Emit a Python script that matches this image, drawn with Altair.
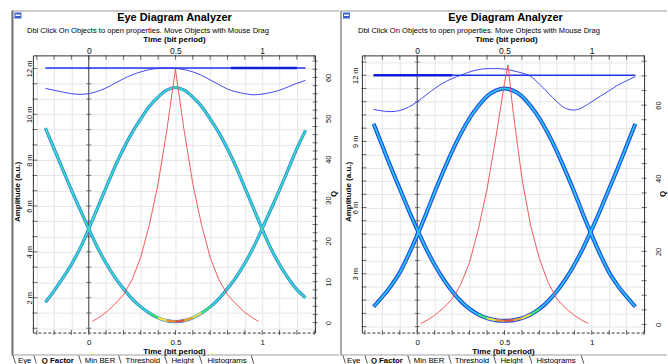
import altair as alt
import pandas as pd

FONT = "Liberation Sans"

# ---------------- data ----------------
T = [-0.25, -0.2, -0.15, -0.1, -0.05, 0.0, 0.05, 0.1, 0.15, 0.2, 0.25, 0.3, 0.35, 0.4, 0.45, 0.5,
     0.55, 0.6, 0.65, 0.7, 0.75, 0.8, 0.85, 0.9, 0.95, 1.0, 1.05, 1.1, 1.15, 1.2, 1.25]

# left panel (amplitude in m a.u.)
L_LOW = [9.4, 8.5, 7.6, 6.7, 5.85, 5.0, 4.2, 3.5, 2.9, 2.4, 1.95, 1.6, 1.33, 1.12, 1.0, 0.96,
         1.0, 1.12, 1.33, 1.6, 1.95, 2.4, 2.9, 3.5, 4.2, 5.0, 5.85, 6.7, 7.6, 8.5, 9.3]
L_UP = [1.8, 2.3, 2.85, 3.45, 4.15, 5.0, 5.9, 6.8, 7.7, 8.5, 9.2, 9.8, 10.35, 10.75, 11.05, 11.17,
        11.05, 10.75, 10.35, 9.8, 9.2, 8.5, 7.7, 6.8, 5.9, 5.0, 4.15, 3.45, 2.85, 2.35, 2.0]
L_TOPC = [11.13, 11.05, 10.97, 10.9, 10.87, 10.9, 11.0, 11.15, 11.35, 11.55, 11.72, 11.85, 11.95, 12.0, 12.02, 12.0,
          11.95, 11.85, 11.7, 11.5, 11.3, 11.1, 10.98, 10.9, 10.85, 10.88, 10.95, 11.05, 11.2, 11.35, 11.48]
L_FLAT_T = [-0.25, 1.25]
L_FLAT = [12.02, 12.02]
L_BAND_T = [0.82, 1.2]
L_BAND = [12.02, 12.02]
LQ_T = [0.02, 0.05, 0.1, 0.15, 0.2, 0.25, 0.3, 0.35, 0.4, 0.45, 0.5,
        0.55, 0.6, 0.65, 0.7, 0.75, 0.8, 0.85, 0.9, 0.95, 0.98]
LQ = [0.3, 1.0, 2.5, 4.5, 6.8, 10.5, 16, 24, 34, 47, 62, 47, 34, 24, 16, 10.5, 6.8, 4.5, 2.5, 1.0, 0.3]

# right panel
R_LOW = [9.8, 8.8, 7.8, 6.85, 5.9, 5.0, 4.15, 3.4, 2.75, 2.2, 1.75, 1.4, 1.15, 0.98, 0.89, 0.86,
         0.89, 0.98, 1.15, 1.4, 1.75, 2.2, 2.75, 3.4, 4.15, 5.0, 5.9, 6.85, 7.8, 8.8, 9.8]
R_UP = [1.5, 1.95, 2.45, 3.05, 3.85, 4.75, 5.7, 6.7, 7.65, 8.55, 9.35, 10.05, 10.6, 11.05, 11.3, 11.4,
        11.3, 11.05, 10.6, 10.05, 9.35, 8.55, 7.65, 6.7, 5.7, 4.75, 3.85, 3.05, 2.45, 1.95, 1.5]
R_TOPC = [10.45, 10.38, 10.35, 10.4, 10.55, 10.8, 11.1, 11.4, 11.65, 11.85, 12.0, 12.15, 12.25, 12.3, 12.3, 12.28,
          12.2, 12.1, 11.95, 11.6, 11.2, 10.8, 10.5, 10.42, 10.55, 10.8, 11.05, 11.3, 11.55, 11.75, 11.94]
R_FLAT_T = [-0.25, 1.25]
R_FLAT = [12.0, 12.0]
R_BAND_T = [-0.25, 0.2]
R_BAND = [12.0, 12.0]
RQ_T = [0.02, 0.05, 0.1, 0.15, 0.2, 0.25, 0.3, 0.35, 0.4, 0.45, 0.5, 0.52,
        0.55, 0.6, 0.65, 0.7, 0.75, 0.8, 0.85, 0.9, 0.95, 0.98]
RQ = [0.3, 1.0, 2.5, 4.5, 7, 11, 17, 26, 37, 51, 66, 71, 58, 40, 27, 18, 11.5, 7, 4.5, 2.5, 1.0, 0.3]

# colours of the dense spots at the bottom of the eye (segments between points 12..19)
SPOT_COLORS = ["#3ee070", "#f2e23a", "#f08a30", "#e8503a", "#f2a030", "#e8e040", "#3ee070"]

# tick positions / labels
XT = [round(-0.3 + 0.1 * i, 2) for i in range(17)]
AT_L = [round(2 / 3 * i, 3) for i in range(1, 19)]
AT_R = [round(0.6 * i, 2) for i in range(1, 22)]
QT_L = list(range(0, 66, 2))
QT_R = list(range(0, 74, 4))
TABS = ["Eye", "Q Factor", "Min BER", "Threshold", "Height", "Histograms"]
TITLE = "Eye Diagram Analyzer"
SUBTITLE = "Dbl Click On Objects to open properties.  Move Objects with Mouse Drag"
XTITLE = "Time (bit period)"
ATITLE = "Amplitude (a.u.)"
QTITLE = "Q"

XLAB = ("abs(datum.value) < 0.001 ? '0' : abs(datum.value - 0.5) < 0.001 ? '0.5' : "
        "abs(datum.value - 1) < 0.001 ? '1' : ''")

ONE = pd.DataFrame({"k": [0]})
W, H = 283, 278


def txt(s, x, y, size, bold=False, angle=0, align="center", baseline="alphabetic", color="#000000"):
    return alt.Chart(ONE).mark_text(
        text=s, font=FONT, fontSize=size, fontWeight="bold" if bold else "normal",
        angle=angle, align=align, baseline=baseline, color=color,
    ).encode(x=alt.value(x), y=alt.value(y))


def rule(x, y, x2, y2, color, w):
    return alt.Chart(ONE).mark_rule(color=color, strokeWidth=w).encode(
        x=alt.value(x), y=alt.value(y), x2=alt.value(x2), y2=alt.value(y2))


def make_panel(c):
    xsc = alt.Scale(domain=c["xdom"], nice=False, zero=False)
    ysc = alt.Scale(domain=c["adom"], nice=False, zero=False)
    qsc = alt.Scale(domain=c["qdom"], nice=False, zero=False)

    xb = alt.X("t:Q", scale=xsc, axis=alt.Axis(
        orient="bottom", values=XT, labelExpr=XLAB, grid=True, gridColor="#e6e6e6",
        ticks=False, tickSize=0, domainColor="#333333", domainDash=[3, 2],
        labelFont=FONT, labelFontSize=8, labelColor="#111111", labelBaseline="top",
        labelPadding=6, labelOverlap=False, labelFlush=False, title=None))
    ya = alt.Y("a:Q", scale=ysc, axis=alt.Axis(
        orient="left", values=c["aticks"], labelExpr=c["alab"], grid=True, gridColor="#e6e6e6",
        ticks=False, tickSize=0, domainColor="#333333",
        labelFont=FONT, labelFontSize=7.5, labelColor="#111111", labelAngle=270,
        labelAlign="center", labelBaseline="alphabetic", labelPadding=c["apad"],
        labelOverlap=False, labelFlush=False, title=None))
    xt = alt.X("t:Q", scale=xsc, axis=alt.Axis(
        orient="top", values=XT, labelExpr=XLAB, grid=False,
        ticks=False, tickSize=0, domainColor="#333333",
        labelFont=FONT, labelFontSize=8.5, labelColor="#111111", labelBaseline="alphabetic",
        labelPadding=2, labelOverlap=False, labelFlush=False, title=None))
    yq = alt.Y("q:Q", scale=qsc, axis=alt.Axis(
        orient="right", values=c["qticks"], labelExpr=c["qlab"], grid=False,
        ticks=False, tickSize=0, domainColor="#333333",
        labelFont=FONT, labelFontSize=7.5, labelColor="#111111", labelAngle=270,
        labelAlign="center", labelBaseline="top", labelPadding=c["qpad"],
        labelOverlap=False, labelFlush=False, title=None))

    # data frames
    eye = pd.DataFrame({
        "t": T + T, "a": c["low"] + c["up"],
        "trace": ["low"] * len(T) + ["up"] * len(T)})
    seg_rows = []
    for i, col in enumerate(SPOT_COLORS):
        j = 12 + i
        seg_rows.append({"t": T[j], "a": c["low"][j], "seg": i, "col": col})
        seg_rows.append({"t": T[j + 1], "a": c["low"][j + 1], "seg": i, "col": col})
    spots = pd.DataFrame(seg_rows)
    topc = pd.DataFrame({"t": T, "a": c["topc"]})
    flat = pd.DataFrame({"t": c["flat_t"], "a": c["flat"]})
    band = pd.DataFrame({"t": c["band_t"], "a": c["band"]})
    qdf = pd.DataFrame({"t": c["q_t"], "q": c["q"]})
    xt_df = pd.DataFrame({"t": XT})
    at_df = pd.DataFrame({"a": c["aticks"], "t": [0.0] * len(c["aticks"])})
    qt_df = pd.DataFrame({"q": c["qticks"]})
    zero_df = pd.DataFrame({"t": [0.0]})

    o = c["ox"]  # pixel x of plot origin
    oy = 55

    bg = alt.Chart(ONE).mark_rect(opacity=0).encode(
        x=alt.value(c["bx0"] - o), x2=alt.value(c["bx1"] - o),
        y=alt.value(0 - oy), y2=alt.value(364 - oy))

    decor = [
        bg,
        # window borders
        rule(c["border_x"] - o, 10 - oy, c["border_x"] - o, 356 - oy, c["border_col"], c["border_w"]),
        rule(c["border_x"] - o, 10.5 - oy, c["bx1"] - o, 10.5 - oy, "#9a9a9a", 1),
        rule(c["border_x"] - o, 355.5 - oy, c["bx1"] - o, 355.5 - oy, "#a0a0a0", 1),
        alt.Chart(ONE).mark_rect(color="#3a5fcd").encode(
            x=alt.value(c["border_x"] + 2 - o), x2=alt.value(c["border_x"] + 9 - o),
            y=alt.value(12 - oy), y2=alt.value(18 - oy)),
        alt.Chart(ONE).mark_rect(color="#ffffff").encode(
            x=alt.value(c["border_x"] + 3 - o), x2=alt.value(c["border_x"] + 8 - o),
            y=alt.value(14 - oy), y2=alt.value(15.5 - oy)),
        # texts
        txt(TITLE, c["title_x"] - o, 20.7 - oy, 11, bold=True),
        txt(SUBTITLE, c["sub_x"] - o, 33 - oy, 7.6, align="left"),
        txt(XTITLE, c["xt_top"] - o, 41.3 - oy, 8, bold=True),
        txt(XTITLE, c["xt_bot"] - o, 354.3 - oy, 8, bold=True),
        txt(ATITLE, c["at_x"] - o, 192 - oy, 8, bold=True, angle=270),
        txt(QTITLE, c["qt_x"] - o, 194 - oy, 8, bold=True, angle=270, baseline="middle"),
    ]
    for name, xpos in zip(TABS, c["tab_x"]):
        decor.append(txt(name, xpos - o, 363.5 - oy, 7.8, bold=(name == "Q Factor"), align="left"))
    for sx in c["seps"]:
        decor.append(rule(sx - o, 356 - oy, sx + 2.5 - o, 364 - oy, "#555555", 1))

    amp_layers = decor + [
        # inner axis at t = 0
        alt.Chart(zero_df).mark_rule(color="#444444", strokeWidth=1).encode(
            x=xb, y=alt.value(0), y2=alt.value(H)),
        alt.Chart(at_df).mark_tick(orient="horizontal", color="#444444", thickness=1, size=5).encode(x=xb, y=ya),
        # left ticks
        alt.Chart(at_df).mark_tick(orient="horizontal", color="#333333", thickness=1, size=5).encode(
            y=ya, x=alt.value(2)),
        # bottom ticks
        alt.Chart(xt_df).mark_tick(orient="vertical", color="#333333", thickness=1, size=5).encode(
            x=xb, y=alt.value(H)),
        # eye traces
        alt.Chart(eye).mark_line(color=c["edge"], strokeWidth=c["ew"], interpolate="monotone").encode(
            x=xb, y=ya, detail="trace:N"),
        alt.Chart(eye).mark_line(color=c["core"], strokeWidth=c["cw"], interpolate="monotone").encode(
            x=xb, y=ya, detail="trace:N"),
        alt.Chart(spots).mark_line(strokeWidth=2.2, interpolate="monotone").encode(
            x=xb, y=ya, detail="seg:N", color=alt.Color("col:N", scale=None)),
        # top level lines
        alt.Chart(topc).mark_line(color="#3f48f0", strokeWidth=1, interpolate="monotone").encode(x=xb, y=ya),
        alt.Chart(flat).mark_line(color="#2233ee", strokeWidth=1.5).encode(x=xb, y=ya),
        alt.Chart(band).mark_line(color="#1020dd", strokeWidth=2.6).encode(x=xb, y=ya),
    ]
    amp = alt.layer(*amp_layers)

    q_layers = [
        alt.Chart(xt_df).mark_tick(orient="vertical", color="#333333", thickness=1, size=5).encode(
            x=xt, y=alt.value(2)),
        alt.Chart(qt_df).mark_tick(orient="horizontal", color="#333333", thickness=1, size=5).encode(
            y=yq, x=alt.value(W)),
        alt.Chart(qdf).mark_line(color="#f04848", strokeWidth=0.9).encode(x=xt, y=yq),
    ]
    qlay = alt.layer(*q_layers)

    return alt.layer(amp, qlay).resolve_scale(x="independent", y="independent").properties(width=W, height=H)


left_cfg = dict(
    xdom=[-0.322, 1.305], adom=[0.48, 12.57], qdom=[-2.44, 65.4],
    aticks=AT_L, alab="abs(datum.value/2 - round(datum.value/2)) < 0.01 ? round(datum.value) + ' m' : ''",
    qticks=QT_L, qlab="datum.value % 10 == 0 ? '' + datum.value : ''",
    apad=1, qpad=9,
    low=L_LOW, up=L_UP, topc=L_TOPC, flat_t=L_FLAT_T, flat=L_FLAT, band_t=L_BAND_T, band=L_BAND,
    q_t=LQ_T, q=LQ,
    edge="#2f78e4", core="#36dcc0", ew=3.2, cw=1.8,
    ox=33, bx0=0, bx1=340, border_x=12.5, border_col="#6e6e6e", border_w=2,
    title_x=175, sub_x=27, xt_top=175, xt_bot=175, at_x=20, qt_x=335,
    tab_x=[18, 42, 85, 126, 172, 208], seps=[13, 34, 79, 119, 165, 200, 252],
)
right_cfg = dict(
    xdom=[-0.317, 1.3], adom=[0.33, 12.9], qdom=[-2.2, 73.6],
    aticks=AT_R, alab="abs(datum.value/3 - round(datum.value/3)) < 0.01 ? round(datum.value) + ' m' : ''",
    qticks=QT_R, qlab="datum.value % 20 == 0 ? '' + datum.value : ''",
    apad=4, qpad=10,
    low=R_LOW, up=R_UP, topc=R_TOPC, flat_t=R_FLAT_T, flat=R_FLAT, band_t=R_BAND_T, band=R_BAND,
    q_t=RQ_T, q=RQ,
    edge="#1c48e0", core="#2cc4f0", ew=4, cw=1.8,
    ox=362, bx0=340, bx1=668, border_x=341, border_col="#8a8a8a", border_w=1.5,
    title_x=506, sub_x=358, xt_top=507, xt_bot=504, at_x=351, qt_x=664,
    tab_x=[347, 371, 414, 455, 501, 537], seps=[343, 365, 408, 449, 494, 530, 582],
)

chart = alt.hconcat(make_panel(left_cfg), make_panel(right_cfg), spacing=0, bounds="full").properties(
    padding=0).configure_view(stroke=None)

chart.save("out.html", embed_options={"renderer": "svg", "actions": False})
